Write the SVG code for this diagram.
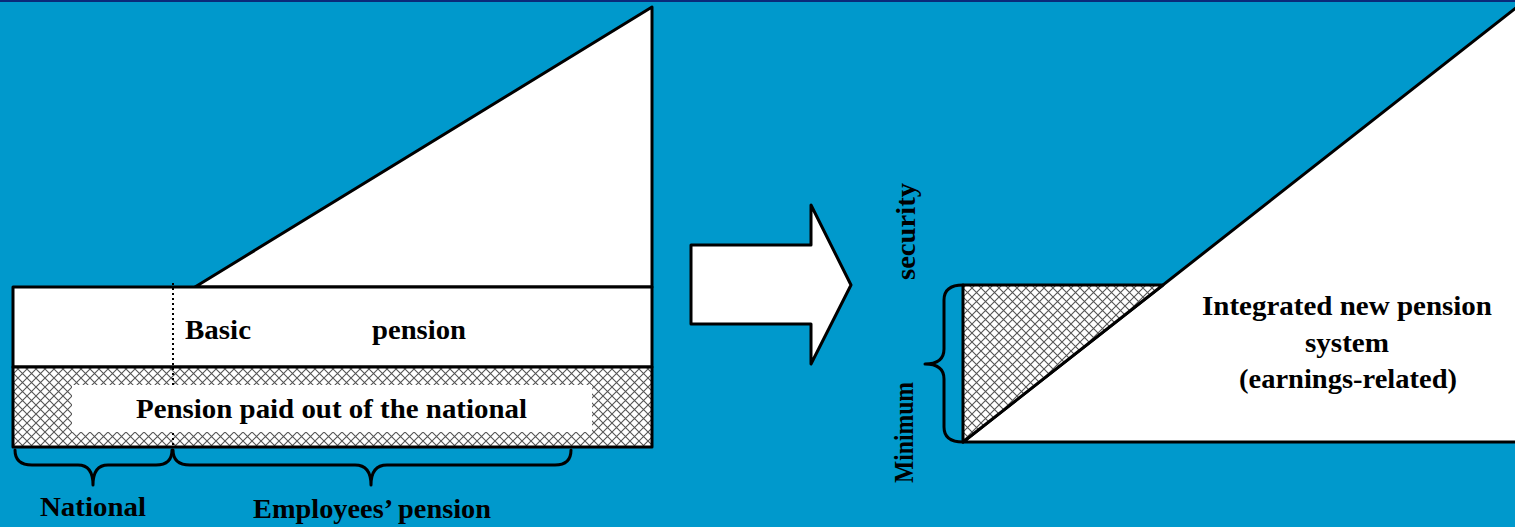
<svg xmlns="http://www.w3.org/2000/svg" width="1515" height="527" viewBox="0 0 1515 527">
<defs>
<pattern id="hatch" patternUnits="userSpaceOnUse" width="9" height="9">
<rect width="9" height="9" fill="#fff"/>
<path d="M0,0 L9,9 M9,0 L0,9" stroke="#555" stroke-width="1.1"/>
</pattern>
</defs>
<style>
.shape{stroke:#000;stroke-width:3;stroke-linejoin:round}
.brace{fill:none;stroke:#000;stroke-width:3;stroke-linejoin:round;stroke-linecap:round}
.t{font-family:"Liberation Serif","Times New Roman",serif;font-weight:bold;font-size:28px;fill:#000}
</style>
<rect width="1515" height="527" fill="#0099cc"/>
<rect width="1515" height="2" fill="#0a2a7a"/>

<g id="left-diagram">
<polygon class="shape" points="195,287 652,7 652,287" fill="#fff"/>
<rect class="shape" x="13" y="287" width="639" height="80" fill="#fff"/>
<rect class="shape" x="13" y="367" width="639" height="80" fill="url(#hatch)"/>
<line x1="173" y1="283" x2="173" y2="445" stroke="#000" stroke-width="2" stroke-dasharray="2,3"/>
<rect x="72" y="385" width="520" height="47" fill="#fff"/>
<text class="t" x="185" y="339" textLength="66" lengthAdjust="spacingAndGlyphs">Basic</text>
<text class="t" x="372" y="339" textLength="94" lengthAdjust="spacingAndGlyphs">pension</text>
<text class="t" x="136" y="418" textLength="391" lengthAdjust="spacingAndGlyphs">Pension paid out of the national</text>
</g>

<g id="brace-national">
<path class="brace" d="M15,450 Q15,465 32,465 L78,465 Q93,465 93,485 Q93,465 108,465 L156,465 Q172,465 172,450"/>
<text class="t" x="40" y="516" textLength="106" lengthAdjust="spacingAndGlyphs">National</text>
</g>

<g id="brace-employees">
<path class="brace" d="M173,450 Q173,465 190,465 L355,465 Q371,465 371,485 Q371,465 387,465 L555,465 Q571,465 571,450"/>
<text class="t" x="253" y="518" textLength="238" lengthAdjust="spacingAndGlyphs">Employees’ pension</text>
</g>

<g id="arrow">
<polygon class="shape" points="691,245 811,245 811,205 851,285 811,364 811,324 691,324" fill="#fff"/>
</g>

<g id="right-diagram">
<polygon class="shape" points="963,442 1517,7 1517,442" fill="#fff"/>
<polygon class="shape" points="963,285 1163,285 963,442" fill="url(#hatch)"/>
<text class="t" x="1202" y="315" textLength="290" lengthAdjust="spacingAndGlyphs">Integrated new pension</text>
<text class="t" x="1305" y="352" textLength="84" lengthAdjust="spacingAndGlyphs">system</text>
<text class="t" x="1239" y="388" textLength="218" lengthAdjust="spacingAndGlyphs">(earnings-related)</text>
</g>

<g id="brace-minimum">
<path class="brace" d="M963,285 Q944,285 944,300 L944,349 Q944,364 925,364 Q944,364 944,379 L944,427 Q944,442 963,442"/>
<text class="t" transform="translate(913,483) rotate(-90)" x="0" y="0" textLength="101" lengthAdjust="spacingAndGlyphs">Minimum</text>
<text class="t" transform="translate(915,280) rotate(-90)" x="0" y="0" textLength="97" lengthAdjust="spacingAndGlyphs">security</text>
</g>
</svg>
